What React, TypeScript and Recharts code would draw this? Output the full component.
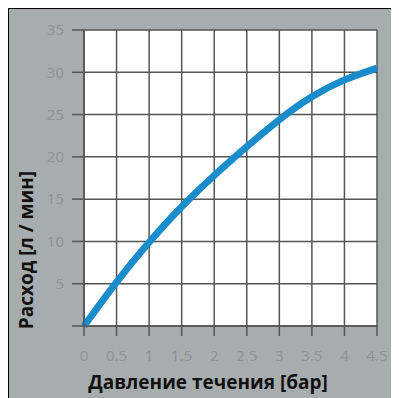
import { LineChart, Line, XAxis, YAxis, CartesianGrid, Label } from "recharts"

const pressure = [0, 0.5, 1, 1.5, 2, 2.5, 3, 3.5, 4, 4.5]
const flow = [0, 5.2, 9.9, 14.1, 17.8, 21.2, 24.4, 27.1, 29.1, 30.5]
const xTicks = [0, 0.5, 1, 1.5, 2, 2.5, 3, 3.5, 4, 4.5]
const yTicks = [0, 5, 10, 15, 20, 25, 30, 35]

const data = pressure.map((p, i) => ({ p, q: flow[i] }))

const tickStyle = { fill: "#8d9295", fontSize: 15, fontFamily: "Open Sans" }
const titleStyle = { fill: "#111", fontSize: 19, fontWeight: 700, fontFamily: "Open Sans" }

const App = () => {
  return (
    <div
      style={{
        width: 390,
        height: 389,
        background: "#a7acae",
        borderTop: "1px solid #000",
        borderLeft: "1px solid #000",
      }}
    >
      <LineChart width={390} height={389} data={data} margin={{ top: 21, right: 22, left: 0, bottom: 0 }}>
        <CartesianGrid stroke="#555" strokeWidth={1.5} fill="#fff" />
        <XAxis
          dataKey="p"
          type="number"
          domain={[0, 4.5]}
          ticks={xTicks}
          height={72}
          tickSize={10}
          tickMargin={14}
          tick={tickStyle}
          stroke="#555"
          strokeWidth={1.5}
        >
          <Label
            content={() => (
              <text x={199} y={380} textAnchor="middle" {...titleStyle}>
                Давление течения [бар]
              </text>
            )}
          />
        </XAxis>
        <YAxis
          type="number"
          domain={[0, 35]}
          ticks={yTicks}
          width={75}
          tickSize={12}
          tickMargin={8}
          tick={tickStyle}
          tickFormatter={(v) => (v === 0 ? "" : String(v))}
          stroke="#555"
          strokeWidth={1.5}
        >
          <Label
            content={() => (
              <text x={24} y={241} textAnchor="middle" transform="rotate(-90 24 241)" {...titleStyle}>
                Расход [л / мин]
              </text>
            )}
          />
        </YAxis>
        <Line
          type="natural"
          dataKey="q"
          stroke="#1a8ccb"
          strokeWidth={7}
          dot={false}
          isAnimationActive={false}
        />
      </LineChart>
    </div>
  )
}

export default App
